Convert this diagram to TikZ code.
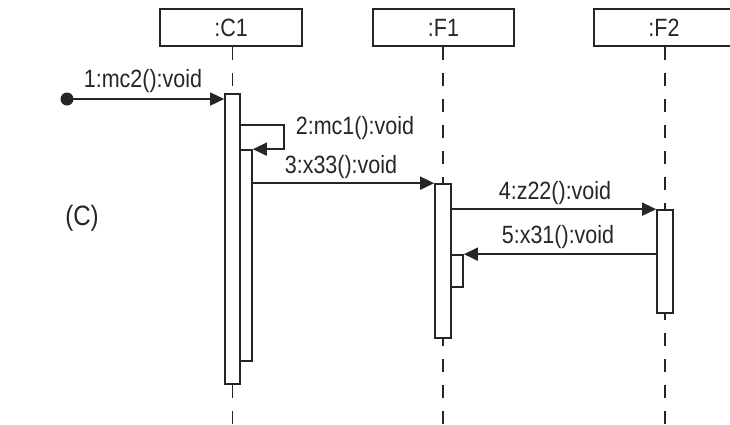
\documentclass[tikz,border=0pt]{standalone}
\usepackage{fontspec}
\setmainfont{Liberation Sans}[FakeStretch=0.86]
\usetikzlibrary{arrows.meta}
\begin{document}
\begin{tikzpicture}[x=1pt,y=-1pt,
  every node/.style={font=\fontsize{25}{29}\selectfont, text=black!85},
  objbox/.style={draw=black!85, line width=1.7pt, minimum height=37pt, inner sep=0pt},
  act/.style={draw=black!85, fill=white, line width=1.7pt, inner sep=0pt},
  life/.style={draw=black!85, line width=1.9pt, dash pattern=on 13pt off 13pt},
  msg/.style={draw=black!85, line width=1.7pt, -{Triangle[length=14pt,width=13pt]}},
  lbl/.style={inner sep=0pt}]
\useasboundingbox (0,0) rectangle (730,424);
% objects
\node[objbox, minimum width=142pt] (C1) at (231,27.5) {:C1};
\node[objbox, minimum width=141pt] (F1) at (443.5,27.5) {:F1};
\node[objbox, minimum width=140pt] (F2) at (664,27.5) {:F2};
% lifeline end coordinates
\coordinate (C1end) at (232.5,424);
\coordinate (F1end) at (443,424);
\coordinate (F2end) at (665,424);
% lifelines
\draw[life] (C1.south -| C1end) -- (C1end);
\draw[life] (F1.south -| F1end) -- (F1end);
\draw[life] (F2.south -| F2end) -- (F2end);
% activations
\node[act, minimum width=15pt, minimum height=290pt] (a1) at (232.5,239) {};
\node[act, minimum width=12pt, minimum height=211pt] (a2) at (246,255.5) {};
\node[act, minimum width=16pt, minimum height=154pt] (b1) at (443,261) {};
\node[act, minimum width=12pt, minimum height=32pt] (b2) at (457,271) {};
\node[act, minimum width=16pt, minimum height=103pt] (c1) at (665,261.5) {};
% message 1
\coordinate (start) at (67,99);
\fill[black!85] (start) circle (6.5pt);
\draw[msg] (start) -- (start -| a1.west);
\node[lbl] (l1) at (143,81) {1:mc2():void};
% message 2 (self)
\coordinate (m2) at (284,125);
\draw[msg] (m2 -| a1.east) -- (m2) |- (a2.north east);
\node[lbl] (l2) at (355,128) {2:mc1():void};
% message 3
\draw[msg] (a2.east |- b1.north) -- (b1.north west);
\node[lbl] (l3) at (341,167) {3:x33():void};
% message 4
\draw[msg] (b1.east |- c1.north) -- (c1.north west);
\node[lbl] (l4) at (555,193) {4:z22():void};
% message 5
\draw[msg] (c1.west |- b2.north) -- (b2.north east);
\node[lbl] (l5) at (558,237) {5:x31():void};
% label
\node[lbl, font=\fontsize{28}{32}\selectfont] (tag) at (82,218) {(C)};
\end{tikzpicture}
\end{document}
